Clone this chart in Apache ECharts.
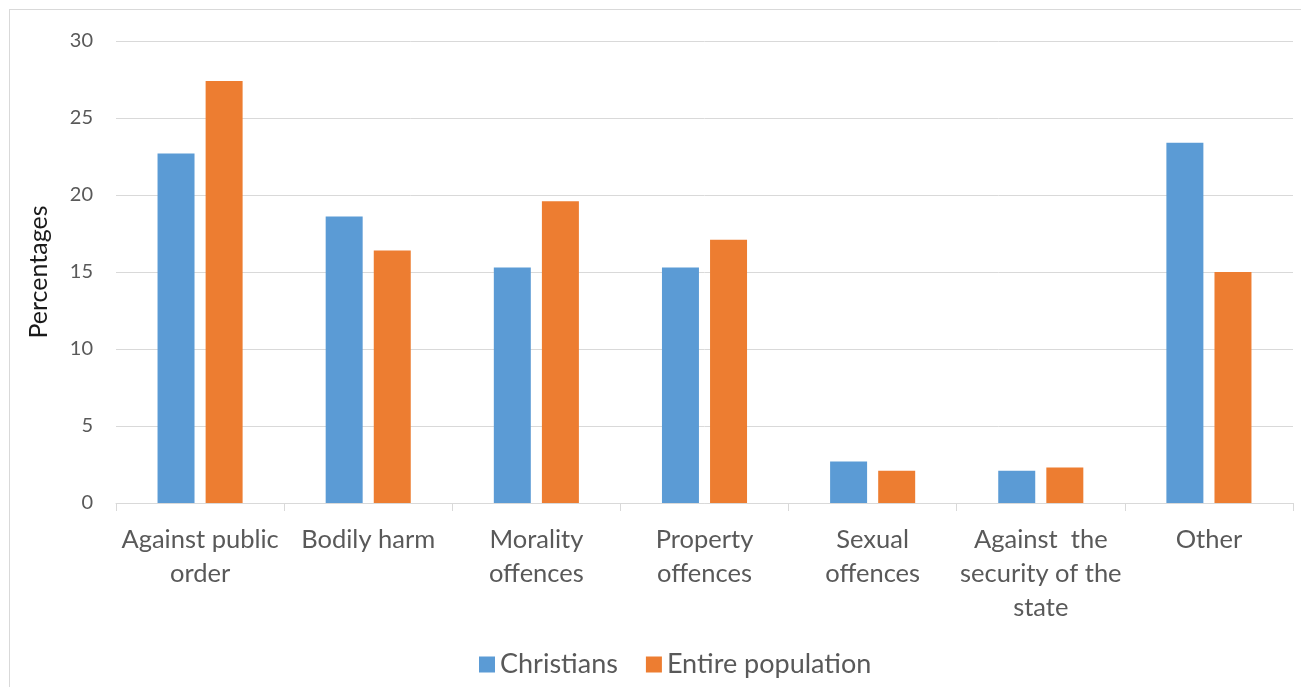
<!DOCTYPE html>
<html>
<head>
<meta charset="utf-8">
<style>
  html, body { margin: 0; padding: 0; background: #fff; }
  #frame { position: absolute; left: 9px; top: 9px; width: 1300px; height: 690px; border: 1px solid #d9d9d9; box-sizing: border-box; }
  #chart { position: absolute; left: 0; top: 0; width: 1301px; height: 687px; }
</style>
<script src="https://cdn.jsdelivr.net/npm/echarts@6/dist/echarts.min.js"></script>
</head>
<body>
<div id="frame"></div>
<div id="chart"></div>
<script>
const categories = [
  'Against public\norder',
  'Bodily harm',
  'Morality\noffences',
  'Property\noffences',
  'Sexual\noffences',
  'Against  the\nsecurity of the\nstate',
  'Other'
];
const christians = [22.7, 18.6, 15.3, 15.3, 2.7, 2.1, 23.4];
const entirePopulation = [27.4, 16.4, 19.6, 17.1, 2.1, 2.3, 15.0];
const yTicks = { min: 0, max: 30, interval: 5 };

const font = 'Lato, "Open Sans", sans-serif';
const chart = echarts.init(document.getElementById('chart'), null, { renderer: 'canvas' });
chart.setOption({
  animation: false,
  textStyle: { fontFamily: font },
  color: ['#5B9BD5', '#ED7D31'],
  grid: { left: 116, right: 8, top: 41, bottom: 184, containLabel: false },
  legend: {
    top: 646,
    left: 474,
    itemWidth: 16,
    itemHeight: 16,
    itemGap: 28,
    icon: 'rect',
    textStyle: { fontFamily: font, fontSize: 27, color: '#595959' },
    data: ['Christians', 'Entire population']
  },
  xAxis: {
    type: 'category',
    data: categories,
    axisLine: { lineStyle: { color: '#d9d9d9', width: 1 } },
    axisTick: { show: true, length: 8, lineStyle: { color: '#d9d9d9' } },
    axisLabel: {
      interval: 0,
      margin: 20,
      fontSize: 25.5,
      lineHeight: 34,
      color: '#595959',
      fontFamily: font,
      verticalAlign: 'top'
    }
  },
  yAxis: {
    type: 'value',
    min: yTicks.min,
    max: yTicks.max,
    interval: yTicks.interval,
    name: 'Percentages',
    nameLocation: 'middle',
    nameGap: 65,
    nameRotate: 90,
    nameTextStyle: { fontFamily: font, fontSize: 25, color: '#1a1a1a' },
    axisLine: { show: false },
    axisTick: { show: false },
    axisLabel: { margin: 23, fontSize: 20, color: '#595959', fontFamily: font },
    splitLine: { lineStyle: { color: '#d9d9d9', width: 1 } }
  },
  series: [
    {
      name: 'Christians',
      type: 'bar',
      data: christians,
      barWidth: '22%',
      barGap: '30%'
    },
    {
      name: 'Entire population',
      type: 'bar',
      data: entirePopulation,
      barWidth: '22%',
      barGap: '30%'
    }
  ]
});
</script>
</body>
</html>
